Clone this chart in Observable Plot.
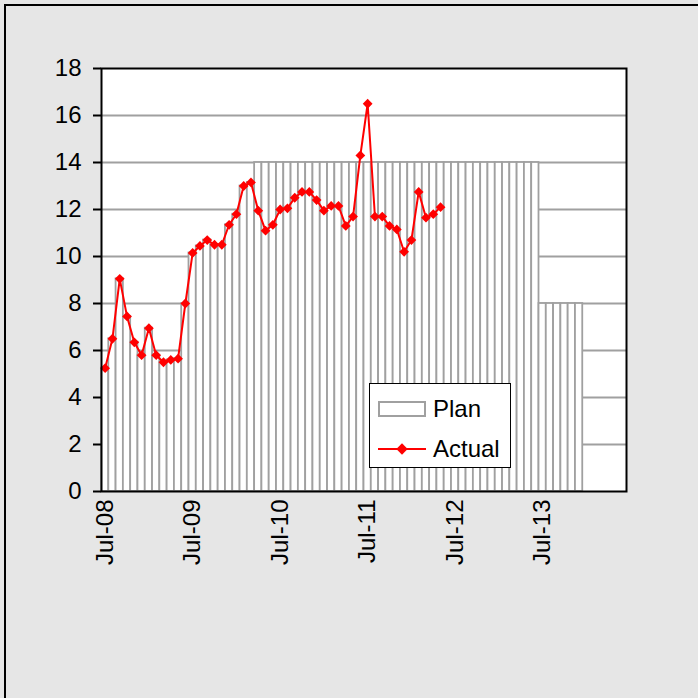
<!DOCTYPE html>
<html>
<head>
<meta charset="utf-8">
<script src="https://cdn.jsdelivr.net/npm/d3@7"></script>
<script src="https://cdn.jsdelivr.net/npm/@observablehq/plot@0.6"></script>
<style>
  html, body { margin: 0; padding: 0; background: #e6e6e6; }
  #wrap { position: relative; width: 698px; height: 698px; overflow: hidden; font-family: "Liberation Sans", Arial, sans-serif; }
  #border { position: absolute; left: 4px; top: 4px; width: 760px; height: 760px; border-left: 2px solid #000; border-top: 2px solid #000; box-sizing: border-box; pointer-events: none; }
  #legend { position: absolute; left: 369px; top: 383px; width: 142px; height: 85px; box-sizing: border-box; background: #fff; border: 1.5px solid #000; font-size: 24px; color: #000; }
  .row { position: absolute; left: 8px; display: flex; align-items: center; }
  .row span { margin-left: 7px; }
</style>
</head>
<body>
<div id="wrap">
  <div id="chart"></div>
  <div id="border"></div>
  <div id="legend">
    <div class="row" style="top:10px;">
      <svg width="48" height="30"><rect x="1" y="8" width="46" height="14" fill="#fff" stroke="#a0a0a0" stroke-width="2"></rect></svg>
      <span>Plan</span>
    </div>
    <div class="row" style="top:50px;">
      <svg width="48" height="30"><line x1="0" y1="15" x2="48" y2="15" stroke="#f00" stroke-width="2"></line><rect x="20" y="11" width="8" height="8" fill="#f00" transform="rotate(45 24 15)"></rect></svg>
      <span>Actual</span>
    </div>
  </div>
</div>
<script>
const months = [
  "Jul-08","Aug-08","Sep-08","Oct-08","Nov-08","Dec-08","Jan-09","Feb-09","Mar-09","Apr-09","May-09","Jun-09",
  "Jul-09","Aug-09","Sep-09","Oct-09","Nov-09","Dec-09","Jan-10","Feb-10","Mar-10","Apr-10","May-10","Jun-10",
  "Jul-10","Aug-10","Sep-10","Oct-10","Nov-10","Dec-10","Jan-11","Feb-11","Mar-11","Apr-11","May-11","Jun-11",
  "Jul-11","Aug-11","Sep-11","Oct-11","Nov-11","Dec-11","Jan-12","Feb-12","Mar-12","Apr-12","May-12","Jun-12",
  "Jul-12","Aug-12","Sep-12","Oct-12","Nov-12","Dec-12","Jan-13","Feb-13","Mar-13","Apr-13","May-13","Jun-13",
  "Jul-13","Aug-13","Sep-13","Oct-13","Nov-13","Dec-13","Jan-14","Feb-14","Mar-14","Apr-14","May-14","Jun-14"
];
const actualValues = [
  5.25, 6.5, 9.05, 7.45, 6.35, 5.8, 6.95, 5.8, 5.5, 5.6, 5.65, 8.0,
  10.15, 10.45, 10.7, 10.5, 10.5, 11.35, 11.8, 13.0, 13.15, 11.95, 11.1, 11.35,
  12.0, 12.05, 12.5, 12.75, 12.75, 12.4, 11.95, 12.15, 12.15, 11.3, 11.7, 14.3,
  16.5, 11.7, 11.7, 11.3, 11.15, 10.2, 10.7, 12.75, 11.65, 11.8, 12.1
];
const planValues = [
  5.25, 6.5, 9.05, 7.45, 6.35, 5.8, 6.95, 5.8, 5.5, 5.6, 5.65, 8.0,
  10.15, 10.45, 10.7, 10.5, 10.5, 11.35, 11.8, 13.0, 13.15, 14, 14, 14,
  14, 14, 14, 14, 14, 14, 14, 14, 14, 14, 14, 14,
  14, 14, 14, 14, 14, 14, 14, 14, 14, 14, 14, 14,
  14, 14, 14, 14, 14, 14, 14, 14, 14, 14, 14, 14,
  8, 8, 8, 8, 8, 8
];
const xTickLabels = ["Jul-08","Jul-09","Jul-10","Jul-11","Jul-12","Jul-13"];
const yTickValues = [0, 2, 4, 6, 8, 10, 12, 14, 16, 18];
const yGridValues = [2, 4, 6, 8, 10, 12, 14, 16];

const plan = planValues.map((v, i) => ({month: months[i], value: v}));
const actual = actualValues.map((v, i) => ({month: months[i], value: v}));

const chart = Plot.plot({
  width: 698,
  height: 698,
  marginLeft: 101,
  marginRight: 72,
  marginTop: 68,
  marginBottom: 207,
  style: {background: "transparent", fontFamily: "'Liberation Sans', Arial, sans-serif", fontSize: "24px", color: "#000"},
  x: {type: "band", domain: months, padding: 0, round: false},
  y: {domain: [0, 18]},
  marks: [
    Plot.frame({fill: "#fff", stroke: "none"}),
    Plot.gridY(yGridValues, {stroke: "#a0a0a0", strokeOpacity: 1, strokeWidth: 1.8}),
    Plot.barY(plan, {x: "month", y: "value", fill: "#fff", stroke: "#a0a0a0", strokeWidth: 1.8}),
    Plot.line(actual, {x: "month", y: "value", stroke: "#f00", strokeWidth: 2}),
    Plot.dot(actual, {x: "month", y: "value", symbol: "square", rotate: 45, r: 3.9, fill: "#f00", stroke: "none"}),
    Plot.frame({stroke: "#000", strokeWidth: 2}),
    Plot.axisY(yTickValues, {tickSize: 8, tickPadding: 12, stroke: "#000", strokeWidth: 2, fontSize: 24, label: null}),
    Plot.axisX(xTickLabels, {tickSize: 0, tickPadding: 8, tickRotate: -90, fontSize: 24, label: null})
  ]
});
document.getElementById("chart").appendChild(chart);
</script>
</body>
</html>
